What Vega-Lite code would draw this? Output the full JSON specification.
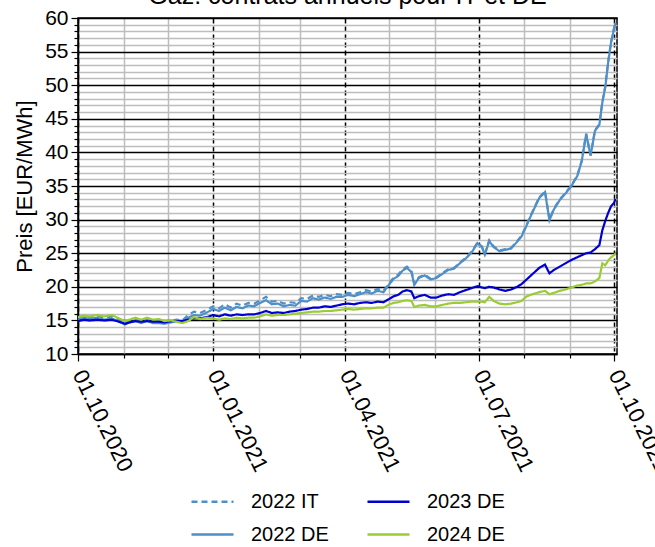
{
 "$schema": "https://vega.github.io/schema/vega-lite/v6.json",
 "width": 539, "height": 336,
 "autosize": {"type": "none"},
 "padding": {"left": 78, "top": 18, "right": 38, "bottom": 193},
 "background": "white",
 "config": {"font": "Liberation Sans", "view": {"stroke": "black", "strokeWidth": 1.5}},
 "title": {"text": "Gaz: contrats annuels pour IT et DE", "fontSize": 25, "fontWeight": "normal", "anchor": "middle", "offset": -2, "color": "black", "font": "Liberation Sans"},
 "data": {"values": [
  {"date":"2020-10-01","2022 IT":15.4,"2022 DE":15.1,"2023 DE":14.9,"2024 DE":15.5},
  {"date":"2020-10-05","2022 IT":15.7,"2022 DE":15.4,"2023 DE":15.1,"2024 DE":15.7},
  {"date":"2020-10-09","2022 IT":15.5,"2022 DE":15.2,"2023 DE":15.0,"2024 DE":15.6},
  {"date":"2020-10-14","2022 IT":15.7,"2022 DE":15.4,"2023 DE":15.1,"2024 DE":15.8},
  {"date":"2020-10-19","2022 IT":15.4,"2022 DE":15.1,"2023 DE":15.0,"2024 DE":15.6},
  {"date":"2020-10-24","2022 IT":15.6,"2022 DE":15.3,"2023 DE":15.1,"2024 DE":15.8},
  {"date":"2020-10-29","2022 IT":15.1,"2022 DE":14.8,"2023 DE":14.8,"2024 DE":15.3},
  {"date":"2020-11-02","2022 IT":14.6,"2022 DE":14.4,"2023 DE":14.5,"2024 DE":14.9},
  {"date":"2020-11-05","2022 IT":14.9,"2022 DE":14.7,"2023 DE":14.7,"2024 DE":15.1},
  {"date":"2020-11-09","2022 IT":15.1,"2022 DE":14.9,"2023 DE":14.9,"2024 DE":15.4},
  {"date":"2020-11-13","2022 IT":14.8,"2022 DE":14.6,"2023 DE":14.8,"2024 DE":15.1},
  {"date":"2020-11-17","2022 IT":15.1,"2022 DE":14.9,"2023 DE":14.9,"2024 DE":15.4},
  {"date":"2020-11-21","2022 IT":14.8,"2022 DE":14.6,"2023 DE":14.8,"2024 DE":15.1},
  {"date":"2020-11-25","2022 IT":14.9,"2022 DE":14.6,"2023 DE":14.8,"2024 DE":15.2},
  {"date":"2020-11-29","2022 IT":14.7,"2022 DE":14.5,"2023 DE":14.7,"2024 DE":14.9},
  {"date":"2020-12-03","2022 IT":14.9,"2022 DE":14.7,"2023 DE":14.9,"2024 DE":15.0},
  {"date":"2020-12-07","2022 IT":15.1,"2022 DE":14.9,"2023 DE":14.9,"2024 DE":14.8},
  {"date":"2020-12-11","2022 IT":15.0,"2022 DE":14.8,"2023 DE":14.9,"2024 DE":14.6},
  {"date":"2020-12-15","2022 IT":15.8,"2022 DE":15.4,"2023 DE":15.1,"2024 DE":14.9},
  {"date":"2020-12-19","2022 IT":16.3,"2022 DE":15.8,"2023 DE":15.3,"2024 DE":15.5},
  {"date":"2020-12-23","2022 IT":16.1,"2022 DE":15.7,"2023 DE":15.3,"2024 DE":15.2},
  {"date":"2020-12-28","2022 IT":16.6,"2022 DE":16.2,"2023 DE":15.5,"2024 DE":15.4},
  {"date":"2021-01-01","2022 IT":17.1,"2022 DE":16.7,"2023 DE":15.8,"2024 DE":15.3},
  {"date":"2021-01-05","2022 IT":16.8,"2022 DE":16.4,"2023 DE":15.6,"2024 DE":15.1},
  {"date":"2021-01-09","2022 IT":17.4,"2022 DE":16.9,"2023 DE":15.9,"2024 DE":15.3},
  {"date":"2021-01-13","2022 IT":16.9,"2022 DE":16.5,"2023 DE":15.7,"2024 DE":15.2},
  {"date":"2021-01-17","2022 IT":17.5,"2022 DE":17.0,"2023 DE":15.9,"2024 DE":15.4},
  {"date":"2021-01-21","2022 IT":17.2,"2022 DE":16.8,"2023 DE":15.8,"2024 DE":15.3},
  {"date":"2021-01-25","2022 IT":17.6,"2022 DE":17.2,"2023 DE":15.9,"2024 DE":15.4},
  {"date":"2021-01-29","2022 IT":17.5,"2022 DE":17.1,"2023 DE":15.9,"2024 DE":15.4},
  {"date":"2021-02-02","2022 IT":18.0,"2022 DE":17.6,"2023 DE":16.1,"2024 DE":15.6},
  {"date":"2021-02-06","2022 IT":18.5,"2022 DE":18.0,"2023 DE":16.4,"2024 DE":15.9},
  {"date":"2021-02-10","2022 IT":17.8,"2022 DE":17.4,"2023 DE":16.1,"2024 DE":15.7},
  {"date":"2021-02-14","2022 IT":17.9,"2022 DE":17.5,"2023 DE":16.2,"2024 DE":15.8},
  {"date":"2021-02-18","2022 IT":17.5,"2022 DE":17.1,"2023 DE":16.1,"2024 DE":15.8},
  {"date":"2021-02-22","2022 IT":17.7,"2022 DE":17.3,"2023 DE":16.3,"2024 DE":15.9},
  {"date":"2021-02-26","2022 IT":17.6,"2022 DE":17.2,"2023 DE":16.4,"2024 DE":16.0},
  {"date":"2021-03-02","2022 IT":18.3,"2022 DE":17.9,"2023 DE":16.6,"2024 DE":16.1},
  {"date":"2021-03-06","2022 IT":18.2,"2022 DE":17.8,"2023 DE":16.7,"2024 DE":16.2},
  {"date":"2021-03-10","2022 IT":18.7,"2022 DE":18.3,"2023 DE":16.9,"2024 DE":16.3},
  {"date":"2021-03-14","2022 IT":18.5,"2022 DE":18.1,"2023 DE":16.9,"2024 DE":16.3},
  {"date":"2021-03-18","2022 IT":18.8,"2022 DE":18.4,"2023 DE":17.1,"2024 DE":16.4},
  {"date":"2021-03-22","2022 IT":18.6,"2022 DE":18.2,"2023 DE":17.0,"2024 DE":16.4},
  {"date":"2021-03-26","2022 IT":18.9,"2022 DE":18.5,"2023 DE":17.2,"2024 DE":16.5},
  {"date":"2021-03-30","2022 IT":18.8,"2022 DE":18.5,"2023 DE":17.4,"2024 DE":16.6},
  {"date":"2021-04-03","2022 IT":19.1,"2022 DE":18.8,"2023 DE":17.5,"2024 DE":16.7},
  {"date":"2021-04-07","2022 IT":18.9,"2022 DE":18.6,"2023 DE":17.4,"2024 DE":16.6},
  {"date":"2021-04-11","2022 IT":19.2,"2022 DE":18.9,"2023 DE":17.6,"2024 DE":16.7},
  {"date":"2021-04-15","2022 IT":19.5,"2022 DE":19.2,"2023 DE":17.7,"2024 DE":16.8},
  {"date":"2021-04-19","2022 IT":19.3,"2022 DE":19.0,"2023 DE":17.6,"2024 DE":16.8},
  {"date":"2021-04-23","2022 IT":19.7,"2022 DE":19.4,"2023 DE":17.8,"2024 DE":16.9},
  {"date":"2021-04-27","2022 IT":19.4,"2022 DE":19.2,"2023 DE":17.7,"2024 DE":16.9},
  {"date":"2021-05-01","2022 IT":20.6,"2022 DE":20.4,"2023 DE":18.2,"2024 DE":17.4},
  {"date":"2021-05-04","2022 IT":21.4,"2022 DE":21.2,"2023 DE":18.6,"2024 DE":17.6},
  {"date":"2021-05-07","2022 IT":21.8,"2022 DE":21.6,"2023 DE":18.8,"2024 DE":17.7},
  {"date":"2021-05-10","2022 IT":22.6,"2022 DE":22.4,"2023 DE":19.3,"2024 DE":17.9},
  {"date":"2021-05-13","2022 IT":23.0,"2022 DE":22.8,"2023 DE":19.5,"2024 DE":18.0},
  {"date":"2021-05-16","2022 IT":22.4,"2022 DE":22.2,"2023 DE":19.3,"2024 DE":17.9},
  {"date":"2021-05-18","2022 IT":20.4,"2022 DE":20.3,"2023 DE":18.3,"2024 DE":17.0},
  {"date":"2021-05-21","2022 IT":21.4,"2022 DE":21.3,"2023 DE":18.6,"2024 DE":17.2},
  {"date":"2021-05-25","2022 IT":21.8,"2022 DE":21.7,"2023 DE":18.8,"2024 DE":17.3},
  {"date":"2021-05-29","2022 IT":21.2,"2022 DE":21.1,"2023 DE":18.4,"2024 DE":17.1},
  {"date":"2021-06-02","2022 IT":21.4,"2022 DE":21.3,"2023 DE":18.4,"2024 DE":17.1},
  {"date":"2021-06-06","2022 IT":22.0,"2022 DE":21.9,"2023 DE":18.7,"2024 DE":17.3},
  {"date":"2021-06-10","2022 IT":22.6,"2022 DE":22.5,"2023 DE":18.9,"2024 DE":17.5},
  {"date":"2021-06-14","2022 IT":22.8,"2022 DE":22.7,"2023 DE":18.8,"2024 DE":17.6},
  {"date":"2021-06-18","2022 IT":23.6,"2022 DE":23.5,"2023 DE":19.2,"2024 DE":17.6},
  {"date":"2021-06-22","2022 IT":24.3,"2022 DE":24.2,"2023 DE":19.5,"2024 DE":17.7},
  {"date":"2021-06-26","2022 IT":25.2,"2022 DE":25.1,"2023 DE":19.8,"2024 DE":17.8},
  {"date":"2021-06-30","2022 IT":26.6,"2022 DE":26.5,"2023 DE":20.1,"2024 DE":17.8},
  {"date":"2021-07-03","2022 IT":26.0,"2022 DE":25.9,"2023 DE":19.9,"2024 DE":17.8},
  {"date":"2021-07-05","2022 IT":24.9,"2022 DE":24.8,"2023 DE":19.8,"2024 DE":17.7},
  {"date":"2021-07-08","2022 IT":26.9,"2022 DE":26.8,"2023 DE":20.0,"2024 DE":18.5},
  {"date":"2021-07-11","2022 IT":26.0,"2022 DE":25.9,"2023 DE":19.9,"2024 DE":17.9},
  {"date":"2021-07-15","2022 IT":25.4,"2022 DE":25.3,"2023 DE":19.6,"2024 DE":17.5},
  {"date":"2021-07-19","2022 IT":25.6,"2022 DE":25.5,"2023 DE":19.4,"2024 DE":17.4},
  {"date":"2021-07-23","2022 IT":25.8,"2022 DE":25.7,"2023 DE":19.6,"2024 DE":17.5},
  {"date":"2021-07-27","2022 IT":26.8,"2022 DE":26.7,"2023 DE":20.0,"2024 DE":17.7},
  {"date":"2021-07-30","2022 IT":27.6,"2022 DE":27.5,"2023 DE":20.4,"2024 DE":17.9},
  {"date":"2021-08-02","2022 IT":29.0,"2022 DE":28.9,"2023 DE":21.0,"2024 DE":18.5},
  {"date":"2021-08-05","2022 IT":30.5,"2022 DE":30.4,"2023 DE":21.6,"2024 DE":18.8},
  {"date":"2021-08-08","2022 IT":31.9,"2022 DE":31.8,"2023 DE":22.2,"2024 DE":19.0},
  {"date":"2021-08-11","2022 IT":33.3,"2022 DE":33.2,"2023 DE":22.8,"2024 DE":19.2},
  {"date":"2021-08-15","2022 IT":34.2,"2022 DE":34.1,"2023 DE":23.3,"2024 DE":19.4},
  {"date":"2021-08-18","2022 IT":30.0,"2022 DE":29.9,"2023 DE":22.0,"2024 DE":18.9},
  {"date":"2021-08-21","2022 IT":31.6,"2022 DE":31.5,"2023 DE":22.5,"2024 DE":19.1},
  {"date":"2021-08-25","2022 IT":33.0,"2022 DE":32.9,"2023 DE":23.0,"2024 DE":19.4},
  {"date":"2021-08-29","2022 IT":34.0,"2022 DE":33.9,"2023 DE":23.5,"2024 DE":19.6},
  {"date":"2021-09-02","2022 IT":35.1,"2022 DE":35.0,"2023 DE":24.0,"2024 DE":19.9},
  {"date":"2021-09-06","2022 IT":36.6,"2022 DE":36.5,"2023 DE":24.4,"2024 DE":20.2},
  {"date":"2021-09-09","2022 IT":38.8,"2022 DE":38.7,"2023 DE":24.7,"2024 DE":20.3},
  {"date":"2021-09-12","2022 IT":42.8,"2022 DE":42.7,"2023 DE":25.0,"2024 DE":20.5},
  {"date":"2021-09-15","2022 IT":39.6,"2022 DE":39.5,"2023 DE":25.1,"2024 DE":20.5},
  {"date":"2021-09-18","2022 IT":43.3,"2022 DE":43.2,"2023 DE":25.6,"2024 DE":20.8},
  {"date":"2021-09-21","2022 IT":44.2,"2022 DE":44.1,"2023 DE":26.2,"2024 DE":21.3},
  {"date":"2021-09-23","2022 IT":47.5,"2022 DE":47.4,"2023 DE":28.4,"2024 DE":23.5},
  {"date":"2021-09-25","2022 IT":49.8,"2022 DE":49.7,"2023 DE":29.8,"2024 DE":23.2},
  {"date":"2021-09-27","2022 IT":53.5,"2022 DE":53.4,"2023 DE":31.0,"2024 DE":23.9},
  {"date":"2021-09-29","2022 IT":56.5,"2022 DE":56.4,"2023 DE":32.0,"2024 DE":24.4},
  {"date":"2021-10-01","2022 IT":58.5,"2022 DE":58.4,"2023 DE":32.5,"2024 DE":24.7},
  {"date":"2021-10-02","2022 IT":59.4,"2022 DE":59.3,"2023 DE":33.1,"2024 DE":25.0}
 ]},
 "transform": [{"fold": ["2022 IT", "2022 DE", "2023 DE", "2024 DE"], "as": ["series", "price"]}],
 "mark": {"type": "line", "strokeWidth": 2.2, "clip": true},
 "encoding": {
  "x": {"field": "date", "type": "temporal",
   "scale": {"type": "utc", "domain": [{"year": 2020, "month": 10, "date": 1, "utc": true}, {"year": 2021, "month": 10, "date": 3, "utc": true}]},
   "axis": {
    "title": null,
    "values": [
     {"year": 2020, "month": 10, "date": 1, "utc": true},
     {"year": 2020, "month": 11, "date": 1, "utc": true},
     {"year": 2020, "month": 12, "date": 1, "utc": true},
     {"year": 2021, "month": 1, "date": 1, "utc": true},
     {"year": 2021, "month": 2, "date": 1, "utc": true},
     {"year": 2021, "month": 3, "date": 1, "utc": true},
     {"year": 2021, "month": 4, "date": 1, "utc": true},
     {"year": 2021, "month": 5, "date": 1, "utc": true},
     {"year": 2021, "month": 6, "date": 1, "utc": true},
     {"year": 2021, "month": 7, "date": 1, "utc": true},
     {"year": 2021, "month": 8, "date": 1, "utc": true},
     {"year": 2021, "month": 9, "date": 1, "utc": true},
     {"year": 2021, "month": 10, "date": 1, "utc": true}
    ],
    "grid": true,
    "gridColor": {"condition": {"test": "utcmonth(datum.value) % 3 === 0", "value": "black"}, "value": "#bdbdbd"},
    "gridDash": {"condition": {"test": "utcmonth(datum.value) % 3 === 0", "value": [5, 3]}, "value": []},
    "gridWidth": 1.5,
    "labelExpr": "utcmonth(datum.value) % 3 === 0 ? utcFormat(datum.value, '%d.%m.%Y') : ''",
    "labelAngle": 64, "labelAlign": "left", "labelBaseline": "middle",
    "labelFontSize": 22, "labelColor": "black", "labelPadding": 10, "labelOverlap": false, "labelFlush": false,
    "tickColor": "black",
    "tickSize": {"condition": {"test": "utcmonth(datum.value) % 3 === 0", "value": 7}, "value": 4},
    "tickWidth": 1.2,
    "domainColor": "black", "domainWidth": 1.5
   }
  },
  "y": {"field": "price", "type": "quantitative",
   "scale": {"domain": [10, 60], "nice": false, "zero": false},
   "axis": {
    "title": "Preis [EUR/MWh]", "titleFontSize": 22, "titleFontWeight": "normal", "titleColor": "black", "titlePadding": 8,
    "values": [10,11,12,13,14,15,16,17,18,19,20,21,22,23,24,25,26,27,28,29,30,31,32,33,34,35,36,37,38,39,40,41,42,43,44,45,46,47,48,49,50,51,52,53,54,55,56,57,58,59,60],
    "grid": true,
    "gridColor": {"condition": {"test": "datum.value % 5 === 0", "value": "black"}, "value": "#bdbdbd"},
    "gridWidth": 1.5,
    "labelExpr": "datum.value % 5 === 0 ? datum.value : ''",
    "labelFontSize": 21, "labelColor": "black", "labelPadding": 3, "labelOverlap": false, "labelFlush": false,
    "tickColor": "black",
    "tickSize": {"condition": {"test": "datum.value % 5 === 0", "value": 7}, "value": 4},
    "tickWidth": 1.2,
    "domainColor": "black", "domainWidth": 1.5
   }
  },
  "color": {"field": "series", "type": "nominal",
   "scale": {"domain": ["2022 IT", "2022 DE", "2023 DE", "2024 DE"], "range": ["#4f8fc8", "#4f8fc8", "#0000d0", "#9acd32"]},
   "legend": {"orient": "none", "legendX": 112, "legendY": 461, "columns": 2, "direction": "vertical", "title": null,
    "symbolType": "stroke", "symbolSize": 1764, "symbolStrokeWidth": 2.5,
    "labelFontSize": 20, "labelColor": "black", "labelOffset": 16, "rowPadding": -9, "columnPadding": 33}
  },
  "strokeDash": {"field": "series", "type": "nominal",
   "scale": {"domain": ["2022 IT", "2022 DE", "2023 DE", "2024 DE"], "range": [[6, 4], [1, 0], [1, 0], [1, 0]]}
  }
 }
}
